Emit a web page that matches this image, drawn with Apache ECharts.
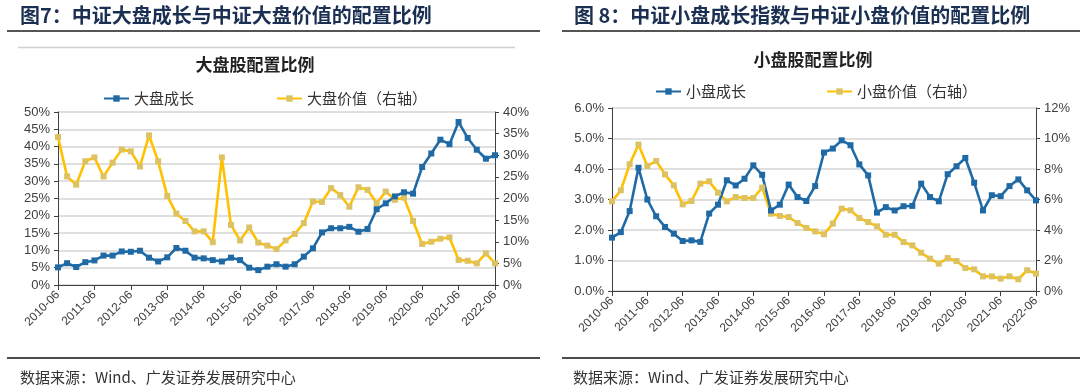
<!DOCTYPE html>
<html>
<head>
<meta charset="utf-8">
<script src="https://cdn.jsdelivr.net/npm/echarts@6/dist/echarts.min.js"></script>
<style>
html,body{margin:0;padding:0;background:#fff;}
#c{width:1080px;height:389px;}
</style>
</head>
<body>
<div id="c"></div>
<script>
// ---- categories (quarterly, 2010-06 .. 2022-06) ----
const quarters = ["03","06","09","12"];
const categories = [];
for (let y = 2010; y <= 2022; y++) {
  for (const q of quarters) {
    const s = y + "-" + q;
    if (s >= "2010-06" && s <= "2022-06") categories.push(s);
  }
}

// ---- Figure 7: large cap (%) ----
const largeGrowth = [5.1,6.3,5.2,6.6,7.1,8.5,8.5,9.7,9.6,9.9,7.9,6.8,8.0,10.7,9.9,7.9,7.7,7.2,6.8,7.9,7.2,5.0,4.3,5.3,6.0,5.3,6.0,8.2,10.6,15.2,16.4,16.4,16.8,15.4,16.2,21.9,23.6,25.6,26.8,26.4,34.1,38.0,42.0,40.7,47.1,42.5,39.1,36.5,37.5];
const largeValue  = [34.2,25.1,23.2,28.6,29.5,25.1,28.3,31.3,30.9,27.4,34.6,28.6,20.6,16.5,14.8,12.4,12.4,9.9,29.5,13.9,10.3,13.3,9.8,9.1,8.3,10.3,11.8,14.3,19.3,19.2,22.4,20.8,18.1,22.6,22.0,18.9,21.6,19.7,20.2,14.8,9.5,10.0,10.7,11.0,5.8,5.6,5.0,7.3,5.0];

// ---- Figure 8: small cap (%) ----
const smallGrowth = [1.75,1.93,2.62,4.04,3.0,2.45,2.10,1.88,1.64,1.66,1.61,2.54,2.83,3.63,3.46,3.68,4.12,3.81,2.64,2.83,3.49,3.08,2.95,3.44,4.54,4.67,4.94,4.78,4.15,3.79,2.57,2.75,2.64,2.78,2.79,3.52,3.08,2.94,3.83,4.09,4.36,3.55,2.64,3.14,3.11,3.44,3.66,3.30,2.97];
const smallValue  = [5.88,6.60,8.31,9.60,8.20,8.52,7.65,6.93,5.68,5.90,7.04,7.19,6.45,5.88,6.16,6.10,6.10,6.78,5.07,4.92,4.85,4.46,4.13,3.91,3.72,4.42,5.40,5.29,4.79,4.52,4.24,3.69,3.69,3.21,2.99,2.51,2.12,1.79,2.16,1.97,1.51,1.42,0.96,0.96,0.81,0.96,0.77,1.36,1.14];

// ---- tick settings ----
const leftTicksL = {min:0, max:50, interval:5};
const leftTicksR = {min:0, max:40, interval:5};
const rightTicksL = {min:0, max:6, interval:1};
const rightTicksR = {min:0, max:12, interval:2};

const BLUE = '#1f6aa5';
const GOLD = '#ffc000';
const GOLD_MK = '#dcc263';
const CJK = '"Noto Sans CJK SC", "Liberation Sans", sans-serif';
const LAT = '"Liberation Sans", Arial, sans-serif';
const NAVY = '#1b2f52';

const chart = echarts.init(document.getElementById('c'), null, {renderer:'canvas'});

function xAxisCfg(gi){
  return {
    type:'category', gridIndex:gi, data:categories, boundaryGap:false,
    axisLine:{show:true, lineStyle:{color:'#404040', width:1}},
    axisTick:{show:true, interval:3, length:5, lineStyle:{color:'#404040'}},
    axisLabel:{interval:3, rotate:45, fontSize:12, color:'#404040', fontFamily:LAT, margin:8},
    splitLine:{show:false}
  };
}
function yAxisCfg(gi, pos, t, fmt, split){
  return {
    type:'value', gridIndex:gi, position:pos, min:t.min, max:t.max, interval:t.interval,
    axisLine:{show:true, lineStyle:{color:'#404040', width:1}},
    axisTick:{show:true, length:4, lineStyle:{color:'#404040'}},
    axisLabel:{formatter:fmt, fontSize:13, color:'#404040', fontFamily:LAT, margin:8},
    splitLine:{show:split, lineStyle:{color:'#d4d4d4', width:1.5}}
  };
}
function lineSeries(name, data, xi, yi, lineColor, mkColor){
  return {
    name, type:'line', xAxisIndex:xi, yAxisIndex:yi, data,
    symbol:'rect', symbolSize:6, showSymbol:true, showAllSymbol:true,
    lineStyle:{color:lineColor, width:2.6},
    itemStyle:{color:mkColor},
    emphasis:{disabled:true}, animation:false
  };
}

chart.setOption({
  animation:false,
  backgroundColor:'#fff',
  textStyle:{fontFamily:CJK},
  grid:[
    {left:58, right:585, top:112, bottom:104, containLabel:false},
    {left:612, right:44, top:108, bottom:98, containLabel:false}
  ],
  xAxis:[xAxisCfg(0), xAxisCfg(1)],
  yAxis:[
    yAxisCfg(0,'left',leftTicksL,'{value}%',true),
    yAxisCfg(0,'right',leftTicksR,'{value}%',false),
    yAxisCfg(1,'left',rightTicksL,v=>v.toFixed(1)+'%',true),
    yAxisCfg(1,'right',rightTicksR,'{value}%',false)
  ],
  legend:[
    {data:['大盘成长','大盘价值（右轴）'], left:98, top:86, itemWidth:25, itemHeight:8, itemGap:82,
     textStyle:{fontSize:15, color:'#333', fontFamily:CJK}},
    {data:['小盘成长','小盘价值（右轴）'], left:650, top:79, itemWidth:25, itemHeight:8, itemGap:80,
     textStyle:{fontSize:15, color:'#333', fontFamily:CJK}}
  ],
  series:[
    lineSeries('大盘价值（右轴）', largeValue, 0, 1, GOLD, GOLD_MK),
    lineSeries('大盘成长', largeGrowth, 0, 0, BLUE, BLUE),
    lineSeries('小盘价值（右轴）', smallValue, 1, 3, GOLD, GOLD_MK),
    lineSeries('小盘成长', smallGrowth, 1, 2, BLUE, BLUE)
  ],
  graphic:[
    {type:'text', left:20, top:5, style:{text:'图7：中证大盘成长与中证大盘价值的配置比例', fontSize:20, fontWeight:'bold', fill:NAVY, fontFamily:CJK}},
    {type:'text', left:574, top:5, style:{text:'图 8：中证小盘成长指数与中证小盘价值的配置比例', fontSize:20, fontWeight:'bold', fill:NAVY, fontFamily:CJK}},
    {type:'line', shape:{x1:7, y1:31, x2:540, y2:31}, style:{stroke:'#555', lineWidth:2.2}},
    {type:'line', shape:{x1:562, y1:31, x2:1080, y2:31}, style:{stroke:'#555', lineWidth:2.2}},
    {type:'line', shape:{x1:18, y1:47.5, x2:515, y2:47.5}, style:{stroke:'#d0d0d0', lineWidth:1.5}},
    {type:'text', x:255, y:65, style:{text:'大盘股配置比例', fontSize:17, fontWeight:'bold', fill:'#222', fontFamily:CJK, align:'center', verticalAlign:'middle'}},
    {type:'text', x:813, y:60, style:{text:'小盘股配置比例', fontSize:17, fontWeight:'bold', fill:'#222', fontFamily:CJK, align:'center', verticalAlign:'middle'}},
    {type:'line', shape:{x1:7, y1:358, x2:540, y2:358}, style:{stroke:'#111', lineWidth:1.5}},
    {type:'line', shape:{x1:562, y1:358, x2:1080, y2:358}, style:{stroke:'#111', lineWidth:1.5}},
    {type:'text', x:20, y:377, style:{text:'数据来源：Wind、广发证券发展研究中心', fontSize:15, fill:'#333', fontFamily:CJK, verticalAlign:'middle'}},
    {type:'text', x:573, y:377, style:{text:'数据来源：Wind、广发证券发展研究中心', fontSize:15, fill:'#333', fontFamily:CJK, verticalAlign:'middle'}}
  ]
});
</script>
</body>
</html>
